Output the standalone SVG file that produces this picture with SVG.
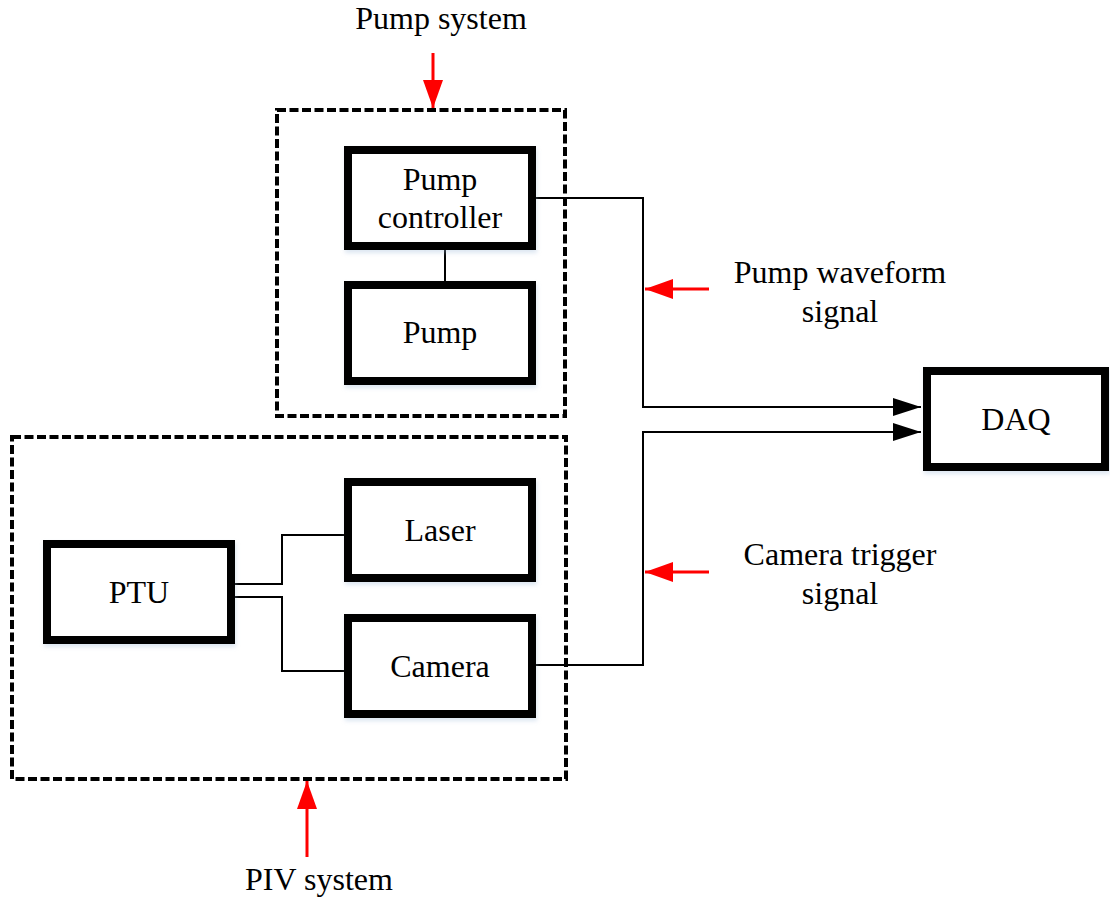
<svg xmlns="http://www.w3.org/2000/svg" width="1110" height="899" viewBox="0 0 1110 899">
<style>
  .box { fill: #ffffff; stroke: #000000; stroke-width: 8; filter: url(#sh); }
  .grp { fill: none; stroke: #000000; stroke-width: 4; stroke-dasharray: 9 3.5; }
  .wire { fill: none; stroke: #000000; stroke-width: 2; }
  .red { fill: none; stroke: #ff0000; stroke-width: 3; }
  text { font-family: "Liberation Serif", "Times New Roman", serif; font-size: 32px; fill: #000000; text-anchor: middle; }
</style>
<defs>
  <filter id="sh" x="-10%" y="-10%" width="120%" height="130%">
    <feDropShadow dx="1" dy="3" stdDeviation="2" flood-color="#9db8d8" flood-opacity="0.35"/>
  </filter>
  <marker id="ab" markerUnits="userSpaceOnUse" markerWidth="28" markerHeight="18" refX="28" refY="9" orient="auto">
    <path d="M0,0 L28,9 L0,18 Z" fill="#000000"/>
  </marker>
  <marker id="ar" markerUnits="userSpaceOnUse" markerWidth="28" markerHeight="20" refX="28" refY="10" orient="auto">
    <path d="M0,0 L28,10 L0,20 Z" fill="#ff0000"/>
  </marker>
</defs>
<rect width="1110" height="899" fill="#ffffff"/>

<g id="pump-system-group">
  <rect class="grp" x="277" y="110" width="288" height="306"/>
</g>
<g id="piv-system-group">
  <rect class="grp" x="12" y="437" width="554" height="342"/>
</g>

<g id="connectors">
  <line class="wire" x1="445" y1="250" x2="445" y2="281"/>
  <polyline class="wire" points="536,198 643,198 643,407 921,407" marker-end="url(#ab)"/>
  <polyline class="wire" points="536,665 643,665 643,432 921,432" marker-end="url(#ab)"/>
  <polyline class="wire" points="235,584 282,584 282,535 344,535"/>
  <polyline class="wire" points="235,597 282,597 282,671 344,671"/>
  <line class="red" x1="433" y1="53" x2="433" y2="108" marker-end="url(#ar)"/>
  <line class="red" x1="709" y1="289" x2="645" y2="289" marker-end="url(#ar)"/>
  <line class="red" x1="709" y1="572" x2="645" y2="572" marker-end="url(#ar)"/>
  <line class="red" x1="307" y1="857" x2="307" y2="781" marker-end="url(#ar)"/>
</g>

<g id="pump-controller">
  <rect class="box" x="348" y="150" width="184" height="96"/>
  <text x="440" y="190">Pump</text>
  <text x="440" y="228">controller</text>
</g>
<g id="pump">
  <rect class="box" x="348" y="285" width="184" height="96"/>
  <text x="440" y="343">Pump</text>
</g>
<g id="ptu">
  <rect class="box" x="47" y="544" width="184" height="96"/>
  <text x="139" y="603">PTU</text>
</g>
<g id="laser">
  <rect class="box" x="348" y="482" width="184" height="96"/>
  <text x="440" y="541">Laser</text>
</g>
<g id="camera">
  <rect class="box" x="348" y="618" width="184" height="96"/>
  <text x="440" y="677">Camera</text>
</g>
<g id="daq">
  <rect class="box" x="927" y="371" width="178" height="96"/>
  <text x="1016" y="430">DAQ</text>
</g>

<g id="labels">
  <text x="441" y="29">Pump system</text>
  <text x="840" y="283">Pump waveform</text>
  <text x="840" y="322">signal</text>
  <text x="840" y="565">Camera trigger</text>
  <text x="840" y="604">signal</text>
  <text x="319" y="890">PIV system</text>
</g>
</svg>
